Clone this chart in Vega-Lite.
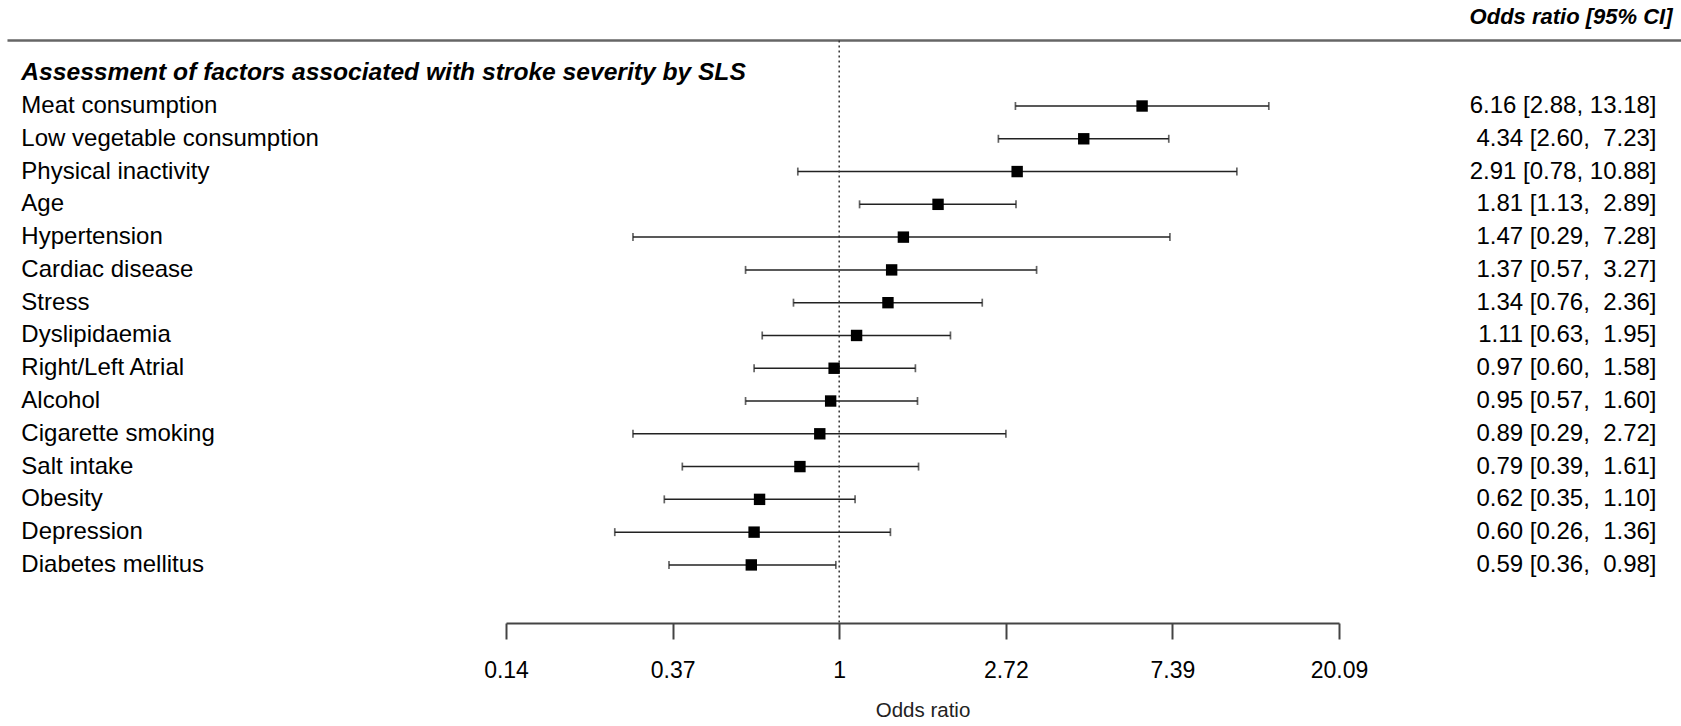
{
  "$schema": "https://vega.github.io/schema/vega-lite/v6.json",
  "width": 833,
  "height": 623,
  "padding": {"left": 506, "right": 342, "top": 0, "bottom": 103},
  "autosize": {"type": "none"},
  "background": "white",
  "config": {"view": {"stroke": null}, "font": "Liberation Sans"},
  "data": {"values": [
    {"label": "Meat consumption", "pos": 1, "or": 6.16, "lo": 2.88, "hi": 13.18, "ci": "6.16 [2.88, 13.18]"},
    {"label": "Low vegetable consumption", "pos": 2, "or": 4.34, "lo": 2.60, "hi": 7.23, "ci": "4.34 [2.60,\u00a0\u00a07.23]"},
    {"label": "Physical inactivity", "pos": 3, "or": 2.91, "lo": 0.78, "hi": 10.88, "ci": "2.91 [0.78, 10.88]"},
    {"label": "Age", "pos": 4, "or": 1.81, "lo": 1.13, "hi": 2.89, "ci": "1.81 [1.13,\u00a0\u00a02.89]"},
    {"label": "Hypertension", "pos": 5, "or": 1.47, "lo": 0.29, "hi": 7.28, "ci": "1.47 [0.29,\u00a0\u00a07.28]"},
    {"label": "Cardiac disease", "pos": 6, "or": 1.37, "lo": 0.57, "hi": 3.27, "ci": "1.37 [0.57,\u00a0\u00a03.27]"},
    {"label": "Stress", "pos": 7, "or": 1.34, "lo": 0.76, "hi": 2.36, "ci": "1.34 [0.76,\u00a0\u00a02.36]"},
    {"label": "Dyslipidaemia", "pos": 8, "or": 1.11, "lo": 0.63, "hi": 1.95, "ci": "1.11 [0.63,\u00a0\u00a01.95]"},
    {"label": "Right/Left Atrial", "pos": 9, "or": 0.97, "lo": 0.60, "hi": 1.58, "ci": "0.97 [0.60,\u00a0\u00a01.58]"},
    {"label": "Alcohol", "pos": 10, "or": 0.95, "lo": 0.57, "hi": 1.60, "ci": "0.95 [0.57,\u00a0\u00a01.60]"},
    {"label": "Cigarette smoking", "pos": 11, "or": 0.89, "lo": 0.29, "hi": 2.72, "ci": "0.89 [0.29,\u00a0\u00a02.72]"},
    {"label": "Salt intake", "pos": 12, "or": 0.79, "lo": 0.39, "hi": 1.61, "ci": "0.79 [0.39,\u00a0\u00a01.61]"},
    {"label": "Obesity", "pos": 13, "or": 0.62, "lo": 0.35, "hi": 1.10, "ci": "0.62 [0.35,\u00a0\u00a01.10]"},
    {"label": "Depression", "pos": 14, "or": 0.60, "lo": 0.26, "hi": 1.36, "ci": "0.60 [0.26,\u00a0\u00a01.36]"},
    {"label": "Diabetes mellitus", "pos": 15, "or": 0.59, "lo": 0.36, "hi": 0.98, "ci": "0.59 [0.36,\u00a0\u00a00.98]"}
  ]},
  "layer": [
    {
      "mark": {"type": "rule", "color": "#222222", "strokeWidth": 1.5},
      "encoding": {
        "y": {"field": "pos", "type": "quantitative", "axis": null,
          "scale": {"domain": [-2.234, 16.772], "reverse": true, "nice": false, "zero": false}},
        "x": {"field": "lo", "type": "quantitative",
          "scale": {"type": "log", "domain": [0.1353353, 20.0855369], "nice": false, "zero": false},
          "axis": {
            "values": [0.1353353, 0.3678794, 1, 2.7182818, 7.3890561, 20.0855369],
            "labelExpr": "datum.value == 1 ? '1' : format(datum.value, '.2f')",
            "domainColor": "#444444", "domainWidth": 2,
            "tickColor": "#444444", "tickWidth": 2, "tickSize": 16,
            "labelFontSize": 23, "labelColor": "black", "labelPadding": 20, "labelFont": "Liberation Sans",
            "title": "Odds ratio", "titleFontSize": 20.5, "titleFontWeight": "normal", "titleColor": "#222222",
            "titlePadding": 18, "titleFont": "Liberation Sans", "grid": false, "labelFlush": false
          }},
        "x2": {"field": "hi"}
      }
    },
    {
      "mark": {"type": "rule", "color": "#666666", "strokeWidth": 2.5},
      "encoding": {
        "x": {"datum": 0.00679, "type": "quantitative"},
        "x2": {"datum": 156.5},
        "y": {"datum": -1, "type": "quantitative"}
      },
      "data": {"values": [{"item": "header"}]}
    },
    {
      "mark": {"type": "text", "text": "Odds ratio [95% CI]", "align": "right", "baseline": "middle", "fontSize": 22, "fontWeight": "bold", "fontStyle": "italic", "color": "black"},
      "encoding": {
        "x": {"datum": 148.7, "type": "quantitative"},
        "y": {"datum": -1.715, "type": "quantitative"}
      },
      "data": {"values": [{"item": "header"}]}
    },
    {
      "mark": {"type": "text", "text": "Assessment of factors associated with stroke severity by SLS", "align": "left", "baseline": "middle", "fontSize": 24.6, "fontWeight": "bold", "fontStyle": "italic", "color": "black"},
      "encoding": {
        "x": {"datum": 0.00738, "type": "quantitative"},
        "y": {"datum": 0, "type": "quantitative"}
      },
      "data": {"values": [{"item": "title"}]}
    },
    {
      "mark": {"type": "rule", "color": "#333333", "strokeWidth": 1.5, "strokeDash": [2, 3]},
      "encoding": {
        "x": {"datum": 1, "type": "quantitative"},
        "y": {"datum": -1, "type": "quantitative"},
        "y2": {"datum": 16.772}
      },
      "data": {"values": [{"item": "ref"}]}
    },
    {
      "mark": {"type": "tick", "orient": "vertical", "color": "#222222", "size": 8, "thickness": 1.7},
      "encoding": {
        "x": {"field": "lo", "type": "quantitative"},
        "y": {"field": "pos", "type": "quantitative"}
      }
    },
    {
      "mark": {"type": "tick", "orient": "vertical", "color": "#222222", "size": 8, "thickness": 1.7},
      "encoding": {
        "x": {"field": "hi", "type": "quantitative"},
        "y": {"field": "pos", "type": "quantitative"}
      }
    },
    {
      "mark": {"type": "square", "filled": true, "color": "black", "opacity": 1, "size": 130},
      "encoding": {
        "x": {"field": "or", "type": "quantitative"},
        "y": {"field": "pos", "type": "quantitative"}
      }
    },
    {
      "mark": {"type": "text", "align": "left", "baseline": "middle", "fontSize": 24, "color": "black"},
      "encoding": {
        "x": {"datum": 0.00738, "type": "quantitative"},
        "y": {"field": "pos", "type": "quantitative"},
        "text": {"field": "label"}
      }
    },
    {
      "mark": {"type": "text", "align": "right", "baseline": "middle", "fontSize": 24, "color": "black"},
      "encoding": {
        "x": {"datum": 135.1, "type": "quantitative"},
        "y": {"field": "pos", "type": "quantitative"},
        "text": {"field": "ci"}
      }
    }
  ]
}
